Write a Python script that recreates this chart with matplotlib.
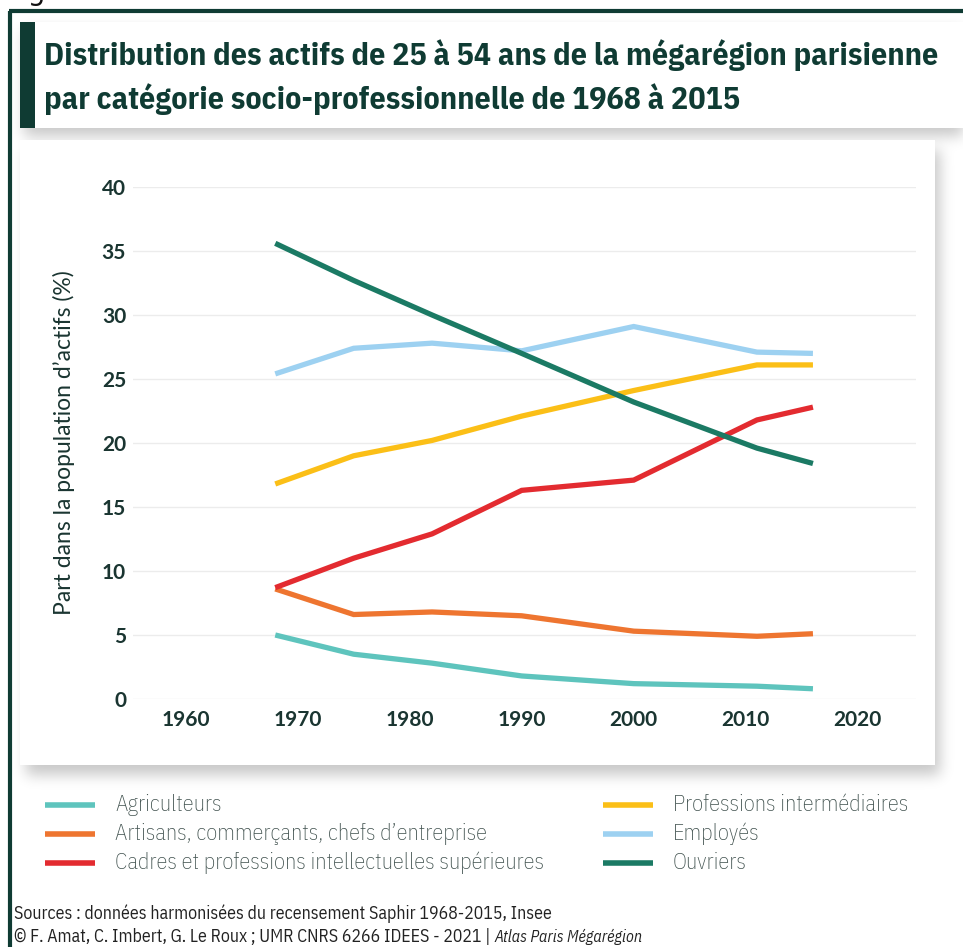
import numpy as np
import matplotlib
matplotlib.use("Agg")
import matplotlib.pyplot as plt
from matplotlib import font_manager as fm
from matplotlib.patches import Rectangle
from matplotlib.lines import Line2D

# ---------------- data ----------------
years = [1968, 1975, 1982, 1990, 2000, 2011, 2016]
agriculteurs = [5.0, 3.5, 2.8, 1.8, 1.2, 1.0, 0.8]
artisans = [8.6, 6.6, 6.8, 6.5, 5.3, 4.9, 5.1]
cadres = [8.7, 11.0, 12.9, 16.3, 17.1, 21.8, 22.8]
prof_inter = [16.8, 19.0, 20.2, 22.1, 24.1, 26.1, 26.1]
employes = [25.4, 27.4, 27.8, 27.2, 29.1, 27.1, 27.0]
ouvriers = [35.6, 32.7, 30.0, 27.0, 23.2, 19.6, 18.4]

labels = ["Agriculteurs",
          "Artisans, commerçants, chefs d\u2019entreprise",
          "Cadres et professions intellectuelles supérieures",
          "Professions intermédiaires",
          "Employés",
          "Ouvriers"]
colors = ["#5ec4bd", "#ee7530", "#e32b30", "#fbbf17", "#9dd1f1", "#1b7a64"]
series = [agriculteurs, artisans, cadres, prof_inter, employes, ouvriers]

x_ticks = [1960, 1970, 1980, 1990, 2000, 2010, 2020]
y_ticks = [0, 5, 10, 15, 20, 25, 30, 35, 40]

title1 = "Distribution des actifs de 25 à 54 ans de la mégarégion parisienne"
title2 = "par catégorie socio-professionnelle de 1968 à 2015"
ylabel = "Part dans la population d\u2019actifs (%)"
source1 = "Sources : données harmonisées du recensement Saphir 1968-2015, Insee"
source2a = "© F. Amat, C. Imbert, G. Le Roux ; UMR CNRS 6266 IDEES - 2021 | "
source2b = "Atlas Paris Mégarégion"

# ---------------- fonts ----------------
names = {f.name for f in fm.fontManager.ttflist}
cond = None
for cand in ["IBM Plex Sans Condensed", "Roboto Condensed", "Open Sans Condensed",
             "Liberation Sans Narrow", "Noto Sans Condensed", "DejaVu Sans Condensed"]:
    if cand in names:
        cond = dict(family=cand)
        break
if cond is None:
    has_dv_cond = any(f.name == "DejaVu Sans" and str(f.stretch) in ("condensed", "semi-condensed")
                      for f in fm.fontManager.ttflist)
    if has_dv_cond:
        cond = dict(family="DejaVu Sans", fontstretch="condensed")
    else:
        cond = dict(family="Roboto")

W, H = 963, 947
DPI = 100
fig = plt.figure(figsize=(W / DPI, H / DPI), dpi=DPI)
fig.patch.set_facecolor("white")


def fx(px):
    return px / W


def fy(py):
    return 1 - py / H


# ---------------- shadows ----------------
def gblur(a, s):
    r = int(3 * s)
    k = np.exp(-0.5 * (np.arange(-r, r + 1) / s) ** 2)
    k /= k.sum()
    a = np.apply_along_axis(lambda m: np.convolve(m, k, mode="same"), 0, a)
    a = np.apply_along_axis(lambda m: np.convolve(m, k, mode="same"), 1, a)
    return a


mask = np.zeros((H, W))
mask[30:136, 24:W] = 1.0
mask[150:775, 26:940] = 1.0
sh = gblur(mask, 7) * 0.22
img = np.zeros((H, W, 4))
img[..., 3] = sh
fig.figimage(img, 0, 0, origin="upper", zorder=0)

# cards
fig.add_artist(Rectangle((fx(20), fy(128)), fx(W - 20), (128 - 22) / H,
                         transform=fig.transFigure, facecolor="white", edgecolor="none", zorder=1))
fig.add_artist(Rectangle((fx(20), fy(765)), fx(935 - 20), (765 - 140) / H,
                         transform=fig.transFigure, facecolor="white", edgecolor="none", zorder=1))
# dark bar of title
fig.add_artist(Rectangle((fx(20), fy(128)), fx(15), (128 - 22) / H,
                         transform=fig.transFigure, facecolor="#0f3b33", edgecolor="none", zorder=2))
# outer frame
fig.add_artist(Line2D([fx(10), fx(10)], [0, fy(11)], transform=fig.transFigure,
                      color="#0f3b33", lw=3, zorder=3, solid_capstyle="butt"))
fig.add_artist(Line2D([fx(9), 1], [fy(11), fy(11)], transform=fig.transFigure,
                      color="#0f3b33", lw=3, zorder=3, solid_capstyle="butt"))
fig.text(fx(6), fy(-8), "Fig", fontsize=20, color="#111111", ha="left", va="center", zorder=3)

# title
fig.text(fx(44), fy(55), title1, fontsize=23, fontweight="bold", color="#0f3b33",
         ha="left", va="center", zorder=3, **cond)
fig.text(fx(44), fy(99), title2, fontsize=23, fontweight="bold", color="#0f3b33",
         ha="left", va="center", zorder=3, **cond)

# ---------------- axes ----------------
ax = fig.add_axes([fx(133), fy(699), fx(916 - 133), (699 - 187) / H], zorder=4)
ax.set_facecolor("none")
for i, s in enumerate(series):
    ax.plot(years, s, color=colors[i], lw=3.8, solid_joinstyle="miter",
            solid_capstyle="butt", label=labels[i])
ax.set_xlim(1955.3, 2025.2)
ax.set_ylim(0, 40)
ax.set_xticks(x_ticks)
ax.set_yticks(y_ticks)
for sp in ax.spines.values():
    sp.set_visible(False)
ax.tick_params(length=0, labelsize=15, labelcolor="#1a3531")
ax.tick_params(axis="y", pad=5)
ax.tick_params(axis="x", pad=8)
for lab in ax.get_xticklabels() + ax.get_yticklabels():
    lab.set_fontfamily("Lato")
    lab.set_fontweight("bold")
ax.grid(axis="y", color="#ececec", lw=1)
ax.set_axisbelow(True)
ax.set_ylabel(ylabel, fontsize=16.5, color="#1a3531", labelpad=19, family="Lato")

# ---------------- legend ----------------
rows = [805, 834, 863]
for i in range(6):
    col = i // 3
    r = rows[i % 3]
    x0 = 45 if col == 0 else 603
    fig.add_artist(Line2D([fx(x0), fx(x0 + 50)], [fy(r), fy(r)], transform=fig.transFigure,
                          color=colors[i], lw=4, solid_capstyle="butt", zorder=3))
    fig.text(fx(x0 + 70), fy(r), labels[i], fontsize=16.1, color="#3f504d", fontweight="light",
             ha="left", va="center", zorder=3, **cond)

# ---------------- sources ----------------
fig.text(fx(14), fy(914), source1, fontsize=12.8, color="#222222", ha="left", va="center", **cond)
t = fig.text(fx(14), fy(937), source2a, fontsize=12.8, color="#222222", ha="left", va="center", **cond)
fig.canvas.draw()
bb = t.get_window_extent()
x_it = bb.x1
# choose an italic face whose width is closest to the reference (~147 px)
target = 147.0
best = None
for fam_kw in [cond, dict(family="Roboto"), dict(family="Liberation Sans Narrow"),
               dict(family="Open Sans"), dict(family="Noto Sans"), dict(family="Lato")]:
    try:
        tt = fig.text(x_it / W, fy(937), source2b, fontsize=12.8, fontstyle="italic",
                      ha="left", va="center", **fam_kw)
        fig.canvas.draw()
        w = tt.get_window_extent().width
        tt.remove()
        if best is None or abs(w - target) < abs(best[1] - target):
            best = (fam_kw, w)
    except Exception:
        pass
fam_kw, w = best
size = 12.8 * min(1.0, max(0.85, target / w))
fig.text(x_it / W, fy(937), source2b, fontsize=size, color="#222222", ha="left", va="center",
         fontstyle="italic", **fam_kw)

fig.savefig("out.png", dpi=DPI, facecolor="white")
